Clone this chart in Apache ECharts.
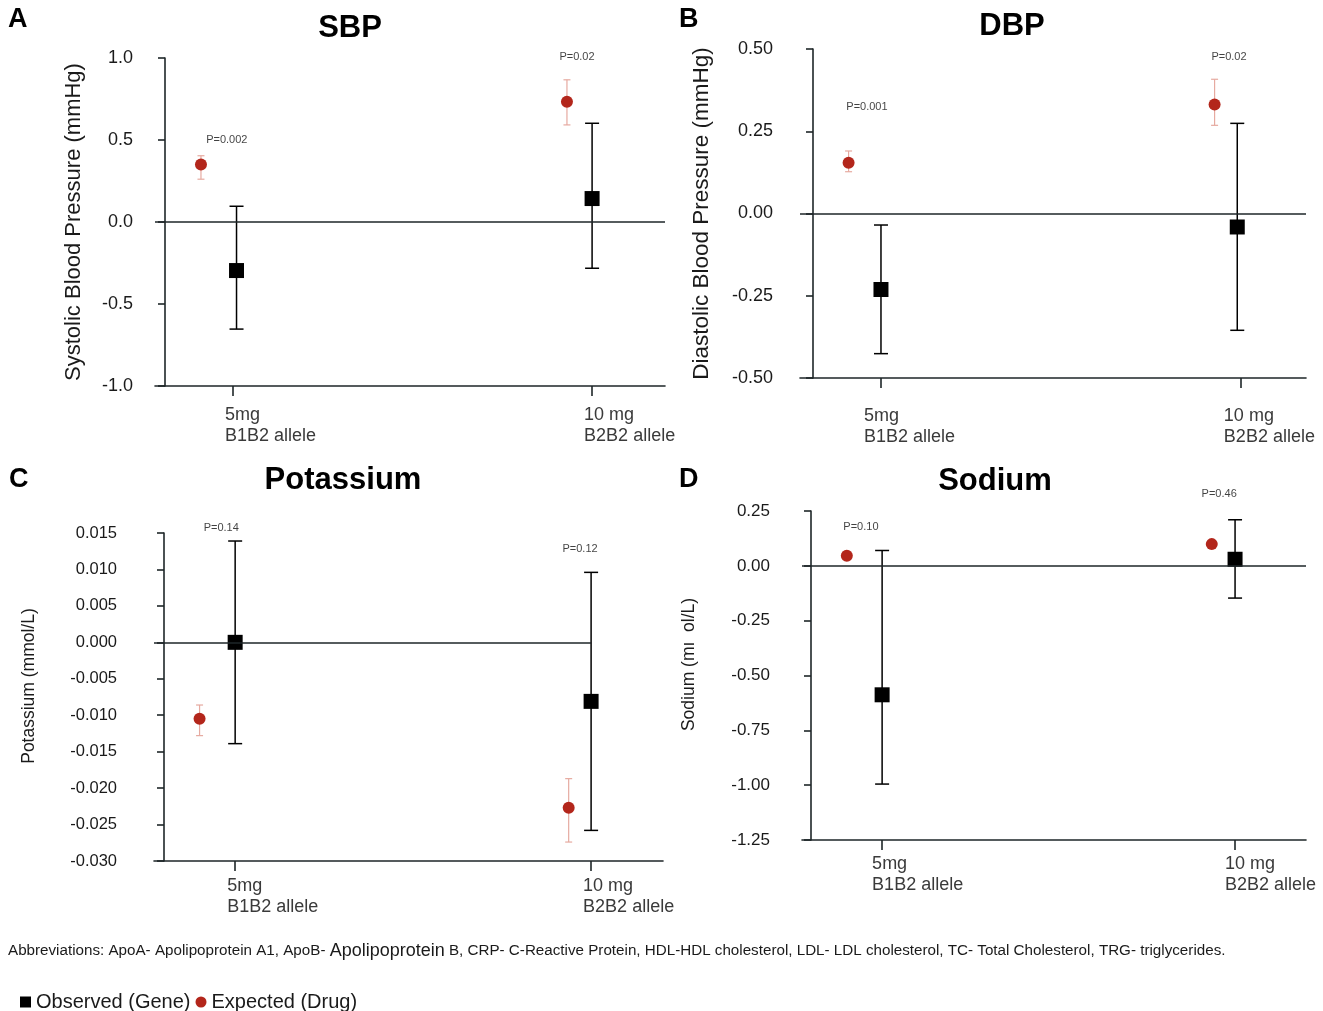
<!DOCTYPE html>
<html><head><meta charset="utf-8">
<script src="https://cdn.jsdelivr.net/npm/echarts@6/dist/echarts.min.js"></script>
<style>html,body{margin:0;padding:0;background:#fff}#c{width:1323px;height:1011px}</style>
</head><body><div id="c"></div>
<script>
// ---------- data ----------
const categories = ['5mg\nB1B2 allele', '10 mg\nB2B2 allele'];
const obsName = 'Observed (Gene)';
const expName = 'Expected (Drug)';

// A: SBP
const sbpObs = [-0.296, 0.143];
const sbpObsLow = [-0.653, -0.282];
const sbpObsHigh = [0.096, 0.602];
const sbpExp = [0.351, 0.733];
const sbpExpLow = [0.261, 0.592];
const sbpExpHigh = [0.404, 0.867];
const sbpP = ['P=0.002', 'P=0.02'];
const sbpTicks = [-1.0, -0.5, 0.0, 0.5, 1.0];

// B: DBP
const dbpObs = [-0.231, -0.041];
const dbpObsLow = [-0.426, -0.355];
const dbpObsHigh = [-0.035, 0.274];
const dbpExp = [0.154, 0.331];
const dbpExpLow = [0.127, 0.268];
const dbpExpHigh = [0.190, 0.408];
const dbpP = ['P=0.001', 'P=0.02'];
const dbpTicks = [-0.50, -0.25, 0.00, 0.25, 0.50];

// C: Potassium
const kObs = [0.0, -0.0081];
const kObsLow = [-0.0139, -0.0258];
const kObsHigh = [0.0139, 0.0096];
const kExp = [-0.0105, -0.0227];
const kExpLow = [-0.0128, -0.0274];
const kExpHigh = [-0.0086, -0.0187];
const kP = ['P=0.14', 'P=0.12'];
const kTicks = [-0.030, -0.025, -0.020, -0.015, -0.010, -0.005, 0.000, 0.005, 0.010, 0.015];

// D: Sodium
const naObs = [-0.588, 0.030];
const naObsLow = [-0.995, -0.147];
const naObsHigh = [0.070, 0.210];
const naExp = [0.046, 0.099];
const naP = ['P=0.10', 'P=0.46'];
const naTicks = [-1.25, -1.00, -0.75, -0.50, -0.25, 0.00, 0.25];

// x placement along the dose axis (1 = 5mg, 2 = 10 mg), with dodge for expected points
const sbpObsX = [1.01, 2.0],  sbpExpX = [0.911, 1.93];
const dbpObsX = [1.0, 1.99],  dbpExpX = [0.91, 1.927];
const kObsX = [1.0, 2.0],     kExpX = [0.90, 1.937];
const naObsX = [1.0, 2.0],    naExpX = [0.90, 1.934];

// P-value annotation anchors (data coords)
const sbpPX = [0.983, 1.958], sbpPY = [0.50, 1.005];
const dbpPX = [0.961, 1.967], dbpPY = [0.323, 0.475];
const kPX = [0.961, 1.969],   kPY = [0.01574, 0.01285];
const naPX = [0.94, 1.955],   naPY = [0.178, 0.328];

// ---------- styling / layout ----------
const FONT = '"Liberation Sans", Arial, Helvetica, sans-serif';
const AX = '#1e2628';
const RED = '#b3261b';
const REDCI = '#e6aaa0';

const panels = [
  { letter:'A', title:'SBP', grid:{left:155, top:58, width:510, height:328}, yOff:-10,
    xMin:0.783, xMax:2.203, ticks:sbpTicks, interval:0.5, dec:1, labSize:18, labMargin:32,
    name:'Systolic Blood Pressure (mmHg)', nameSize:22, nameGap:80, namePad:[0,0,0,0],
    xLabMargin:19, xShift:8, zeroEnd:null,
    obs:sbpObs, obsLow:sbpObsLow, obsHigh:sbpObsHigh, exp:sbpExp, expLow:sbpExpLow, expHigh:sbpExpHigh,
    obsX:sbpObsX, expX:sbpExpX, p:sbpP, pX:sbpPX, pY:sbpPY,
    titleXY:[350, 28], letterXY:[8, 6] },
  { letter:'B', title:'DBP', grid:{left:800, top:49, width:506, height:329}, yOff:-13,
    xMin:0.775, xMax:2.181, ticks:dbpTicks, interval:0.25, dec:2, labSize:18, labMargin:40,
    name:'Diastolic Blood Pressure (mmHg)', nameSize:22.5, nameGap:100, namePad:[0,0,0,0],
    xLabMargin:28, xShift:17, zeroEnd:null,
    obs:dbpObs, obsLow:dbpObsLow, obsHigh:dbpObsHigh, exp:dbpExp, expLow:dbpExpLow, expHigh:dbpExpHigh,
    obsX:dbpObsX, expX:dbpExpX, p:dbpP, pX:dbpPX, pY:dbpPY,
    titleXY:[1012, 26], letterXY:[679, 6] },
  { letter:'C', title:'Potassium', grid:{left:154, top:533, width:509, height:328}, yOff:-10,
    xMin:0.772, xMax:2.202, ticks:kTicks, interval:0.005, dec:3, labSize:16.5, labMargin:47,
    name:'Potassium (mmol/L)', nameSize:17.5, nameGap:126, namePad:[0,0,0,22],
    xLabMargin:15, xShift:8, zeroEnd:2,
    obs:kObs, obsLow:kObsLow, obsHigh:kObsHigh, exp:kExp, expLow:kExpLow, expHigh:kExpHigh,
    obsX:kObsX, expX:kExpX, p:kP, pX:kPX, pY:kPY,
    titleXY:[343, 480], letterXY:[9, 466] },
  { letter:'D', title:'Sodium', grid:{left:802, top:511, width:504, height:329}, yOff:-9,
    xMin:0.773, xMax:2.201, ticks:naTicks, interval:0.25, dec:2, labSize:17, labMargin:41,
    name:'Sodium (mı  ol/L)', nameSize:17.5, nameGap:113, namePad:[0,0,0,22],
    xLabMargin:14, xShift:10, zeroEnd:null,
    obs:naObs, obsLow:naObsLow, obsHigh:naObsHigh, exp:naExp, expLow:null, expHigh:null,
    obsX:naObsX, expX:naExpX, p:naP, pX:naPX, pY:naPY,
    titleXY:[995, 481], letterXY:[679, 466] }
];

function errRender(capHalf, color, width) {
  return function (params, api) {
    const x = api.value(0), lo = api.value(1), hi = api.value(2);
    const a = api.coord([x, lo]), b = api.coord([x, hi]);
    const st = { stroke: color, lineWidth: width };
    return { type: 'group', children: [
      { type: 'line', shape: { x1: a[0], y1: a[1], x2: b[0], y2: b[1] }, style: st },
      { type: 'line', shape: { x1: a[0] - capHalf, y1: a[1], x2: a[0] + capHalf, y2: a[1] }, style: st },
      { type: 'line', shape: { x1: b[0] - capHalf, y1: b[1], x2: b[0] + capHalf, y2: b[1] }, style: st }
    ]};
  };
}

const grids = [], xAxes = [], yAxes = [], series = [], graphics = [];
panels.forEach((p, i) => {
  grids.push(Object.assign({ containLabel: false }, p.grid));
  const sp = p.grid.width / (p.xMax - p.xMin);
  const sh = p.xShift / sp;
  xAxes.push({
    gridIndex: i, type: 'value', min: p.xMin, max: p.xMax,
    axisLine: { show: true, onZero: false, lineStyle: { color: AX, width: 1.6 } },
    axisTick: { show: true, customValues: [1, 2], length: 10, lineStyle: { color: AX, width: 1.6 } },
    axisLabel: { show: true, customValues: [1 - sh, 2 - sh], align: 'left', margin: p.xLabMargin,
      fontFamily: FONT, fontSize: 18, lineHeight: 21, color: '#3a3a3a',
      formatter: v => (v < 1.5 ? categories[0] : categories[1]) },
    splitLine: { show: false }
  });
  yAxes.push({
    gridIndex: i, type: 'value', min: p.ticks[0], max: p.ticks[p.ticks.length - 1], interval: p.interval,
    offset: p.yOff,
    axisLine: { show: true, onZero: false, lineStyle: { color: AX, width: 1.6 } },
    axisTick: { show: true, length: 7, lineStyle: { color: AX, width: 1.6 } },
    axisLabel: { margin: p.labMargin, fontFamily: FONT, fontSize: p.labSize, color: '#1a1a1a',
      formatter: v => Number(v).toFixed(p.dec) },
    splitLine: { show: false },
    name: p.name, nameLocation: 'middle', nameGap: p.nameGap,
    nameTextStyle: { fontFamily: FONT, fontSize: p.nameSize, color: '#1a1a1a', padding: p.namePad }
  });
  // error bars
  series.push({
    type: 'custom', xAxisIndex: i, yAxisIndex: i, silent: true, z: 2, clip: false,
    renderItem: errRender(7, '#000', 1.5), encode: { x: 0, y: [1, 2] },
    data: p.obsX.map((x, k) => [x, p.obsLow[k], p.obsHigh[k]])
  });
  if (p.expLow) {
    series.push({
      type: 'custom', xAxisIndex: i, yAxisIndex: i, silent: true, z: 2, clip: false,
      renderItem: errRender(3.5, REDCI, 1.2), encode: { x: 0, y: [1, 2] },
      data: p.expX.map((x, k) => [x, p.expLow[k], p.expHigh[k]])
    });
  }
  // zero reference line
  series.push({
    type: 'line', xAxisIndex: i, yAxisIndex: i, data: [], silent: true,
    markLine: { silent: true, symbol: 'none', label: { show: false }, animation: false,
      lineStyle: { color: AX, width: 1.6, type: 'solid' },
      data: [[{ coord: [p.xMin, 0] }, { coord: [p.zeroEnd == null ? p.xMax : p.zeroEnd, 0] }]] }
  });
  // points
  series.push({
    name: obsName, type: 'scatter', xAxisIndex: i, yAxisIndex: i, z: 4, clip: false,
    symbol: 'rect', symbolSize: 15, itemStyle: { color: '#000', opacity: 1 },
    data: p.obsX.map((x, k) => [x, p.obs[k]])
  });
  series.push({
    name: expName, type: 'scatter', xAxisIndex: i, yAxisIndex: i, z: 4, clip: false,
    symbol: 'circle', symbolSize: 12, itemStyle: { color: RED, opacity: 1 },
    data: p.expX.map((x, k) => [x, p.exp[k]])
  });
  // P-value annotations
  series.push({
    type: 'scatter', xAxisIndex: i, yAxisIndex: i, symbolSize: 0, silent: true, z: 5, clip: false,
    label: { show: true, position: 'inside', formatter: '{b}', fontFamily: FONT, fontSize: 11, color: '#111' },
    data: p.pX.map((x, k) => ({ name: p.p[k], value: [x, p.pY[k]] }))
  });
  graphics.push({ type: 'text', x: p.titleXY[0], y: p.titleXY[1],
    style: { text: p.title, font: 'bold 31px ' + FONT, fill: '#000', align: 'center', verticalAlign: 'middle' } });
  graphics.push({ type: 'text', x: p.letterXY[0], y: p.letterXY[1],
    style: { text: p.letter, font: 'bold 27px ' + FONT, fill: '#000', align: 'left', verticalAlign: 'top' } });
});

graphics.push({ type: 'text', x: 8, y: 951,
  style: { text: '{a|Abbreviations: ApoA- Apolipoprotein A1, ApoB- }{b|Apolipoprotein}{a| B, CRP- C-Reactive Protein, HDL-HDL cholesterol, LDL- LDL cholesterol, TC- Total Cholesterol, TRG- triglycerides.}',
    rich: { a: { fontFamily: FONT, fontSize: 15.2, fill: '#1a1a1a' }, b: { fontFamily: FONT, fontSize: 18, fill: '#1a1a1a' } },
    align: 'left', verticalAlign: 'middle' } });

const chart = echarts.init(document.getElementById('c'), null, { renderer: 'canvas' });
chart.setOption({
  backgroundColor: '#fff',
  animation: false,
  grid: grids, xAxis: xAxes, yAxis: yAxes, series: series, graphic: graphics,
  legend: {
    left: 15, top: 987, itemWidth: 11, itemHeight: 11, itemGap: 5,
    textStyle: { fontFamily: FONT, fontSize: 20, color: '#1a1a1a' },
    data: [{ name: obsName, icon: 'rect' }, { name: expName, icon: 'circle' }]
  }
});
</script></body></html>
